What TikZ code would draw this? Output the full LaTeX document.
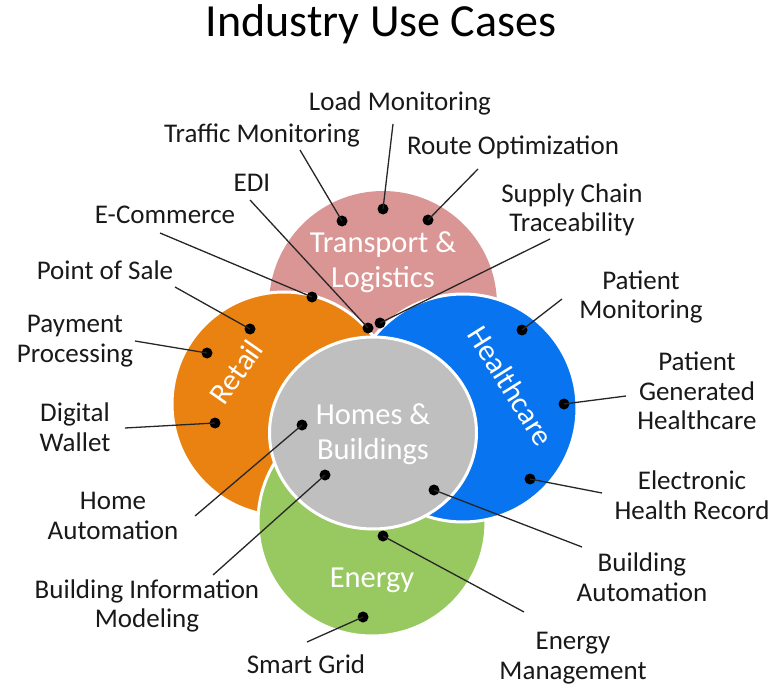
\documentclass[tikz,border=0pt]{standalone}
\usepackage{fontspec}
\setmainfont{Carlito}
\definecolor{pinkc}{RGB}{217,150,148}
\definecolor{orangec}{RGB}{233,130,16}
\definecolor{greenc}{RGB}{152,200,96}
\definecolor{bluec}{RGB}{8,116,240}
\definecolor{greyc}{RGB}{191,191,191}
\begin{document}
\begin{tikzpicture}[x=1pt,y=-1pt,
  lab/.style={font=\fontsize{27}{29.5}\selectfont, align=center, text=black!90, inner sep=0pt},
  big/.style={font=\fontsize{30.5}{35}\selectfont, align=center, text=white, inner sep=0pt},
  dot/.style={circle, fill=black, minimum size=11pt, inner sep=0pt},
  conn/.style={draw=black!85, line width=1.3pt},
  rim/.style={draw=white, line width=3pt}]
\useasboundingbox (0,0) rectangle (774,687);
% shapes
\fill[pinkc] (383,305) circle [radius=114pt];
\filldraw[fill=orangec, rim] (284,404) circle [radius=112pt];
\filldraw[fill=greenc, rim] (372,522) circle [radius=114pt];
\filldraw[fill=bluec, rim] (463,408) circle [radius=114pt];
\filldraw[fill=greyc, rim] (373,433) ellipse [x radius=103.5pt, y radius=96pt];
% title
\node[font=\fontsize{46}{50}\selectfont, inner sep=0pt] (title) at (381,24) {Industry Use Cases};
% shape labels
\node[big] (tl) at (383,262) {Transport \&\\Logistics};
\node[big, rotate=55] (rt) at (236,372) {Retail};
\node[big, rotate=-58] (hc) at (511,386) {Healthcare};
\node[big] (hb) at (373,434) {Homes \&\\Buildings};
\node[big] (en) at (372,580) {Energy};
% item labels
\node[lab] (l1) at (400,103) {Load Monitoring};
\node[lab] (l2) at (262,135) {Traffic Monitoring};
\node[lab] (l3) at (513,147) {Route Optimization};
\node[lab] (l4) at (252,183) {EDI};
\node[lab] (l5) at (572,210) {Supply Chain\\Traceability};
\node[lab] (l6) at (165,215) {E-Commerce};
\node[lab] (l7) at (105,270) {Point of Sale};
\node[lab] (l8) at (75,341) {Payment\\Processing};
\node[lab] (l9) at (75,427) {Digital\\Wallet};
\node[lab] (l10) at (113,516) {Home\\Automation};
\node[lab] (l11) at (147,606) {Building Information\\Modeling};
\node[lab] (l12) at (306,664) {Smart Grid};
\node[lab] (l13) at (573,658) {Energy\\Management};
\node[lab] (l14) at (642,577) {Building\\Automation};
\node[lab] (l15) at (692,495) {Electronic\\Health Record};
\node[lab] (l16) at (697,391) {Patient\\Generated\\Healthcare};
\node[lab] (l17) at (641,297) {Patient\\Monitoring};
% dots
\node[dot] (d1) at (383,209) {};
\node[dot] (d2) at (342,221) {};
\node[dot] (d3) at (428,220) {};
\node[dot] (d4) at (368,328) {};
\node[dot] (d5) at (380,323) {};
\node[dot] (d6) at (312,297) {};
\node[dot] (d7) at (250,329) {};
\node[dot] (d8) at (207,353) {};
\node[dot] (d9) at (215,423) {};
\node[dot] (d10) at (302,425) {};
\node[dot] (d11) at (325,475) {};
\node[dot] (d12) at (363,617) {};
\node[dot] (d13) at (383,536) {};
\node[dot] (d14) at (434,490) {};
\node[dot] (d15) at (530,479) {};
\node[dot] (d16) at (564,404) {};
\node[dot] (d17) at (522,330) {};
% connector free ends
\coordinate (c1) at (393,124);
\coordinate (c2) at (300,150);
\coordinate (c3) at (478,169);
\coordinate (c4) at (250,200);
\coordinate (c5) at (550,239);
\coordinate (c6) at (160,233);
\coordinate (c7) at (175,287);
\coordinate (c8) at (135,341);
\coordinate (c9) at (125,428);
\coordinate (c10) at (195,516);
\coordinate (c11) at (213,575);
\coordinate (c12) at (307,642);
\coordinate (c13) at (524,612);
\coordinate (c14) at (582,547);
\coordinate (c15) at (602,493);
\coordinate (c16) at (626,396);
\coordinate (c17) at (562,299);
\foreach \i in {1,...,17} {\draw[conn] (c\i) -- (d\i.center);}
\end{tikzpicture}
\end{document}
